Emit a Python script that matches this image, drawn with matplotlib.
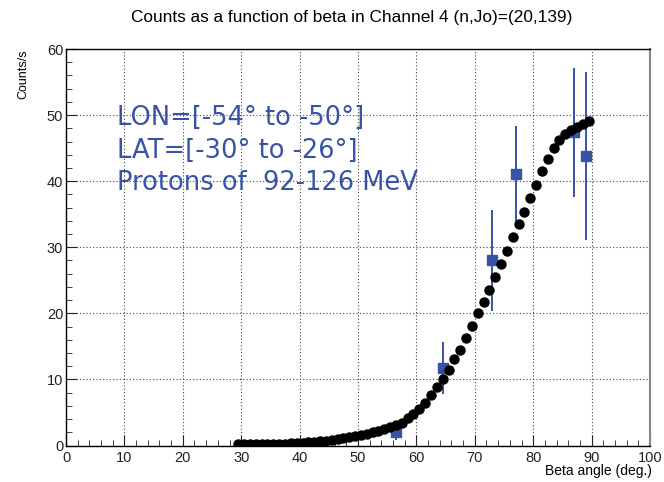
import numpy as np
import matplotlib
matplotlib.use("Agg")
import matplotlib.pyplot as plt
from matplotlib.ticker import MultipleLocator

plt.rcParams["font.family"] = ["Liberation Sans", "DejaVu Sans"]

# model curve (black dots)
beta_model = np.arange(29.5, 90.0, 1.0)
counts_model = [0.2, 0.2, 0.2, 0.2, 0.2, 0.25, 0.25, 0.3, 0.3, 0.35,
                0.4, 0.4, 0.5, 0.55, 0.65, 0.75, 0.85, 1.0, 1.1, 1.25,
                1.4, 1.6, 1.8, 2.0, 2.25, 2.5, 2.8, 3.1, 3.4, 4.1,
                4.7, 5.5, 6.5, 7.6, 8.8, 10.0, 11.5, 13.1, 14.5, 16.2,
                18.1, 20.0, 21.7, 23.5, 25.5, 27.5, 29.5, 31.5, 33.5, 35.3,
                37.5, 39.4, 41.6, 43.3, 45.0, 46.2, 47.1, 47.7, 48.2, 48.7,
                49.1]

# measured counts (blue squares)
beta_meas = [56.5, 64.5, 73.0, 77.0, 87.0, 89.0]
counts_meas = [2.1, 11.7, 28.0, 41.1, 47.4, 43.8]
err_meas = [1.3, 3.9, 7.7, 7.2, 9.8, 12.7]

blue = "#3853a6"

fig = plt.figure(figsize=(6.64, 4.82), dpi=100)
ax = fig.add_axes([0.0994, 0.0757, 0.8795, 0.8226])

ax.errorbar(beta_meas, counts_meas, yerr=err_meas, fmt="s", color=blue,
            ms=7.5, elinewidth=1.4, capsize=0, zorder=3)
ax.plot(beta_model, counts_model, "o", color="black", ms=6.5, zorder=4)

ax.set_xlim(0, 100)
ax.set_ylim(0, 60)
ax.xaxis.set_major_locator(MultipleLocator(10))
ax.xaxis.set_minor_locator(MultipleLocator(2))
ax.yaxis.set_major_locator(MultipleLocator(10))
ax.yaxis.set_minor_locator(MultipleLocator(2))
ax.tick_params(which="both", direction="in", top=False, right=False,
               labelsize=10.5, colors="#222222")
ax.tick_params(axis="x", pad=4)
ax.tick_params(axis="y", pad=2)
ax.tick_params(which="major", length=8)
ax.tick_params(which="minor", length=4)
ax.grid(True, which="major", linestyle=(0, (1, 2)), color="#444444", linewidth=0.8)

for s in ax.spines.values():
    s.set_linewidth(1.0)
ax.spines["right"].set_color("#888888")
ax.spines["right"].set_linewidth(1.5)

fig.text(0.529, 0.963, "Counts as a function of beta in Channel 4 (n,Jo)=(20,139)",
         ha="center", va="center", fontsize=12.4)
fig.text(0.035, 0.897, "Counts/s", rotation=90, ha="center", va="top", fontsize=9)
fig.text(0.982, 0.022, "Beta angle (deg.)", ha="right", va="center", fontsize=10)

ann = dict(color=blue, fontsize=18.5, va="center", family="DejaVu Sans")
ax.text(8.8, 49.5, "LON=[-54° to -50°]", **ann)
ax.text(8.8, 44.6, "LAT=[-30° to -26°]", **ann)
ax.text(8.8, 39.7, "Protons of  92-126 MeV", **ann)

fig.savefig("out.png", dpi=100)
